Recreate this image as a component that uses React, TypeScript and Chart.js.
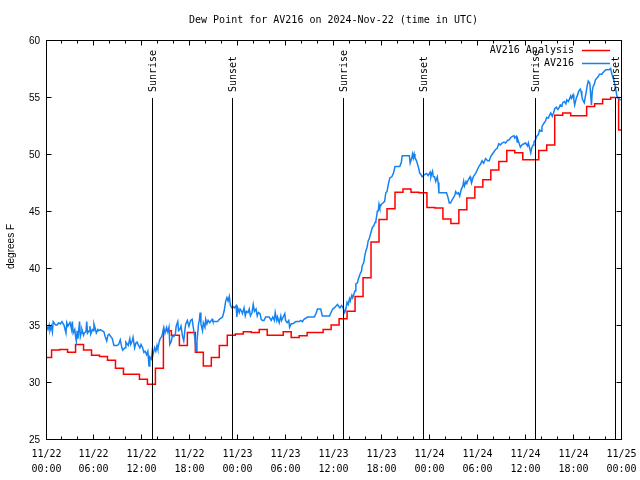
import React, { useEffect, useRef } from 'react';
import { Chart, registerables } from 'chart.js';

Chart.register(...registerables);

const TITLE = 'Dew Point for AV216 on 2024-Nov-22 (time in UTC)';
const Y_AXIS_LABEL = 'degrees F';
const SERIES_NAMES = ['AV216 Analysis', 'AV216'];
const SERIES_COLORS = ['#ff0000', '#1682f0'];

const X_MIN_HOURS = 0;
const X_MAX_HOURS = 72;
const X_MAJOR_STEP_HOURS = 6;
const X_MINOR_STEP_HOURS = 2;
const X_TICK_DATES = ['11/22', '11/22', '11/22', '11/22', '11/23', '11/23', '11/23', '11/23', '11/24', '11/24', '11/24', '11/24', '11/25'];
const X_TICK_TIMES = ['00:00', '06:00', '12:00', '18:00', '00:00', '06:00', '12:00', '18:00', '00:00', '06:00', '12:00', '18:00', '00:00'];
const Y_MIN = 25;
const Y_MAX = 60;
const Y_STEP = 5;

// hourly analysis values (hours since 11/22 00:00 UTC, first value valid from -0.3 h)
const ANALYSIS_FIRST_HOUR = -0.3;
const analysisValues = [
  32.15, 32.8, 32.85, 32.6, 33.3, 32.8, 32.35, 32.24, 31.9, 31.2,
  30.67, 30.67, 30.25, 29.8, 31.2, 34.5, 34.1, 33.2, 34.34, 32.6,
  31.4, 32.15, 33.2, 34.1, 34.2, 34.4, 34.35, 34.6, 34.1, 34.1,
  34.4, 33.9, 34.05, 34.35, 34.35, 34.6, 35.0, 35.55, 36.2, 37.5,
  39.15, 42.27, 44.25, 45.2, 46.65, 46.93, 46.65, 46.6, 45.3, 45.27,
  44.3, 43.9, 45.1, 46.15, 47.1, 47.75, 48.6, 49.35, 50.3, 50.1,
  49.5, 49.5, 50.3, 50.8, 53.4, 53.6, 53.35, 53.35, 54.17, 54.4,
  54.8, 54.95, 52.1,
];

// observations: hours since 11/22 00:00 UTC and dew point (F)
const obsHours = [
  0.1, 0.25, 0.4, 0.5, 0.67, 0.8, 0.9, 1.1, 1.2, 1.4, 1.6, 1.8, 2.0, 2.25, 2.5, 2.6, 2.75, 2.9, 3.0, 3.2,
  3.3, 3.4, 3.6, 3.7, 3.8, 3.9, 4.0, 4.2, 4.3, 4.4, 4.5, 4.7, 4.8, 5.0, 5.1, 5.2, 5.4, 5.5, 5.6, 5.8,
  5.9, 6.0, 6.2, 6.3, 6.5, 6.6, 6.8, 7.0, 7.25, 7.4, 7.6, 7.75, 7.9, 8.1, 8.3, 8.5, 8.9, 9.1, 9.3, 9.5,
  9.6, 9.9, 10.0, 10.2, 10.3, 10.5, 10.6, 10.8, 10.9, 11.1, 11.25, 11.4, 11.6, 11.75, 11.9, 12.1, 12.25, 12.4, 12.6, 12.75,
  12.9, 13.0, 13.2, 13.3, 13.4, 13.6, 13.75, 13.9, 14.0, 14.2, 14.3, 14.5, 14.6, 14.75, 14.9, 15.1, 15.25, 15.4, 15.5, 15.7,
  15.8, 16.0, 16.2, 16.3, 16.5, 16.6, 16.75, 16.9, 17.1, 17.25, 17.4,
  17.5, 17.7, 17.9, 18.1, 18.3, 18.5, 18.65, 18.8, 18.9, 19.1, 19.2, 19.3, 19.4, 19.6, 19.7, 19.9, 20.0, 20.15, 20.3, 20.5,
  20.8, 20.9, 21.5, 21.7, 22.1, 22.3, 22.5, 22.65, 22.8, 22.95, 23.1, 23.3, 23.45, 23.6, 23.8, 23.9, 24.0, 24.2, 24.3, 24.5,
  24.6, 24.8, 24.95, 25.1, 25.3, 25.45, 25.6, 25.8, 25.95, 26.1, 26.3, 26.45, 26.6, 26.8, 26.95, 27.1, 27.3, 27.5, 27.7, 27.95,
  28.2, 28.4, 28.6, 28.7, 28.9, 29.0, 29.2, 29.4, 29.5, 29.7, 29.9, 30.0, 30.2, 30.4, 30.5, 30.7, 30.9, 31.1, 31.3, 31.7,
  31.9, 32.1, 32.3, 32.75, 33.6, 33.8, 34.0, 34.2, 34.4, 34.6, 34.8, 35.5, 35.7, 35.9, 36.1, 36.5,
  36.8, 37.0, 37.2, 37.4, 37.55, 37.7, 37.85, 38.0, 38.1, 38.3, 38.4, 38.55, 38.7, 38.8, 39.0, 39.1, 39.2, 39.4, 39.5, 39.6,
  39.8, 39.9, 40.05, 40.2, 40.35, 40.5, 40.6, 40.8, 40.9, 41.05, 41.2, 41.3, 41.5, 41.6, 41.7, 41.8, 42.0, 42.2, 42.4, 42.55,
  42.7, 42.85, 43.05, 43.3, 43.5, 43.7, 44.3, 44.5, 44.6, 45.5, 45.6, 45.8, 45.9, 46.0, 46.1, 46.2, 46.4, 46.5, 46.65, 46.8,
  46.95, 47.1, 47.2, 47.4, 47.65, 47.85, 48.1, 48.2, 48.3, 48.4, 48.5, 48.65, 48.8, 49.0, 49.1, 49.2, 49.9, 50.15, 50.35, 50.5,
  50.65, 50.8, 51.0, 51.2, 51.3, 51.5, 51.65, 51.8, 52.0, 52.2, 52.3, 52.4, 52.6, 52.7, 52.9, 53.1, 53.2, 53.3, 53.5,
  53.8, 54.2, 54.4, 54.6, 54.8, 55.05, 55.3, 55.5, 55.7, 55.9, 56.1, 56.3, 56.5, 56.7, 56.9, 57.1, 57.35, 57.55, 57.8, 58.0,
  58.2, 58.4, 58.6, 58.7, 58.9, 59.0, 59.1, 59.3, 59.4, 59.6, 59.85, 60.05, 60.3, 60.4, 60.6, 60.7, 60.8, 61.0, 61.1, 61.3,
  61.45, 61.65, 61.8, 62.0, 62.1, 62.35, 62.55, 62.7, 62.9, 63.05, 63.2, 63.4, 63.6, 63.7, 63.9, 64.1, 64.2, 64.4, 64.6, 64.7,
  64.9, 65.1, 65.2, 65.4, 65.6, 65.7, 65.8, 66.0, 66.1, 66.2, 66.4, 66.6, 66.7, 66.9, 67.0, 67.1, 67.2, 67.4, 67.5, 67.65,
  67.8, 67.9, 68.1, 68.2, 68.3, 68.4, 68.5, 68.65, 68.8, 69.15, 69.3, 69.6, 69.7, 70.1, 70.5, 70.7, 70.9, 71.1, 71.3, 71.5,
  71.7, 71.95,
];
const obsValues = [
  34.9, 34.6, 35.0, 34.5, 34.9, 34.4, 35.3, 35.1, 35.0, 35.0, 35.2, 35.1, 35.3, 35.0, 34.3, 35.2, 34.9, 35.1, 35.3, 34.6,
  35.3, 34.3, 34.6, 34.0, 33.6, 34.5, 33.8, 35.3, 34.0, 34.3, 34.6, 34.1, 34.3, 34.4, 35.3, 34.3, 34.5, 34.9, 34.2, 34.6,
  34.5, 35.1, 34.6, 34.3, 34.6, 34.5, 34.6, 34.5, 34.4, 34.0, 33.6, 34.1, 34.2, 34.0, 33.8, 33.2, 33.2, 33.3, 33.7, 33.0,
  32.8, 33.0, 33.5, 33.3, 33.2, 33.8, 33.3, 33.6, 33.9, 33.0, 33.4, 33.5, 33.2, 33.0, 33.3, 33.0, 32.6, 32.7, 32.4, 32.7,
  31.4, 32.2, 32.0, 32.7, 32.4, 33.0, 32.7, 33.2, 32.9, 33.6, 33.8, 34.0, 34.3, 34.8, 34.3, 34.8, 34.4, 34.8, 33.3, 33.6,
  34.0, 34.0, 34.2, 34.9, 35.3, 34.5, 34.6, 34.9, 34.0, 33.6, 34.6,
  35.1, 35.4, 34.9, 35.4, 35.5, 34.5, 33.8, 32.7, 33.5, 35.1, 35.4, 36.1, 35.1, 34.5, 35.2, 34.8, 35.5, 35.1, 35.4, 35.2,
  35.5, 35.3, 35.3, 35.5, 35.7, 36.2, 37.1, 37.4, 37.1, 37.5, 36.7, 36.5, 36.6, 36.5, 36.7, 35.7, 36.5, 36.1, 36.4, 36.2,
  36.0, 36.5, 35.8, 36.2, 36.1, 36.4, 35.8, 36.1, 36.8, 36.2, 36.4, 35.8, 36.1, 36.0, 35.5, 35.4, 35.4, 35.7, 35.7, 35.7,
  35.4, 35.7, 35.4, 36.1, 35.4, 35.7, 35.2, 35.8, 35.4, 35.7, 36.0, 35.4, 35.2, 35.4, 34.8, 35.1, 35.1, 35.2, 35.3, 35.3,
  35.4, 35.3, 35.5, 35.7, 35.7, 36.0, 36.4, 36.4, 36.4, 35.8, 35.8, 35.8, 36.1, 36.4, 36.5, 36.8,
  36.5, 36.7, 36.5, 36.1, 36.4, 37.0, 36.8, 37.3, 37.1, 37.6, 37.4, 37.7, 38.0, 38.6, 38.7, 39.0, 39.2, 39.6, 39.7, 40.2,
  40.5, 41.0, 41.5, 41.8, 42.4, 42.6, 42.9, 43.4, 43.6, 43.7, 44.0, 44.1, 45.0, 45.0, 45.6, 45.3, 45.6, 45.7, 45.85, 46.6,
  46.7, 47.3, 47.9, 48.0, 48.3, 48.9, 48.9, 49.3, 49.85, 49.85, 49.2, 49.65, 50.0, 49.65, 50.0, 49.65, 49.4, 49.15, 48.8, 48.3,
  48.2, 48.0, 48.0, 48.2, 48.3, 48.1, 48.4, 48.0, 48.3, 48.5, 48.0, 48.0, 47.6, 48.0, 47.5, 46.6, 46.6, 46.6, 46.15, 45.7,
  45.7, 45.9, 46.15, 46.4, 46.7, 46.5, 46.6, 46.3, 46.9, 47.2, 47.6, 47.2, 47.6, 47.5, 47.75, 48.0, 47.7, 47.5, 48.0,
  48.3, 48.9, 49.1, 49.4, 49.2, 49.6, 49.4, 49.4, 49.8, 50.0, 50.2, 50.4, 50.5, 50.9, 50.8, 50.96, 51.05, 50.96, 51.2, 51.25,
  51.45, 51.55, 51.6, 51.4, 51.55, 51.05, 51.25, 50.8, 50.6, 50.8, 50.9, 50.96, 50.7, 50.96, 50.4, 50.1, 50.5, 50.8, 51.05, 51.25,
  51.55, 51.7, 52.1, 52.0, 52.4, 52.7, 52.9, 53.2, 53.15, 53.4, 53.6, 53.3, 53.7, 53.97, 54.1, 53.9, 54.0, 54.3, 54.2, 54.5,
  54.6, 54.4, 54.75, 54.6, 54.9, 55.1, 54.9, 55.2, 54.75, 54.3, 54.9, 55.25, 55.5, 55.7, 55.5, 55.05, 54.75, 54.5, 54.9, 55.5,
  56.1, 56.4, 56.2, 55.2, 54.3, 55.5, 55.9, 56.1, 56.5, 56.8, 57.0, 57.0, 57.1, 57.4, 57.4, 57.5, 56.9, 56.5, 55.8, 55.05,
  54.9, 54.7,
];

const sunriseHours = [13.3, 37.3, 61.35];
const sunsetHours = [23.3, 47.25, 71.25];

const MONO = '10px "DejaVu Sans Mono", monospace';
const SANS = '10px "Liberation Sans", Arial, sans-serif';

const gnuplotLook = {
  id: 'gnuplotLook',
  beforeDraw(chart: any) {
    const { ctx, width, height } = chart;
    ctx.save();
    ctx.fillStyle = '#ffffff';
    ctx.fillRect(0, 0, width, height);
    ctx.restore();
  },
  afterDatasetsDraw(chart: any) {
    const { ctx, chartArea: a, scales } = chart;
    const xs = scales.x;
    const ys = scales.y;
    const L = Math.floor(a.left) + 0.5;
    const R = Math.floor(a.right) + 0.5;
    const T = Math.floor(a.top) + 0.5;
    const B = Math.floor(a.bottom) + 0.5;
    ctx.save();
    ctx.strokeStyle = '#000';
    ctx.fillStyle = '#000';
    ctx.lineWidth = 1;

    // sunrise / sunset markers
    const marks: [number, string][] = [
      ...sunriseHours.map((h) => [h, 'Sunrise'] as [number, string]),
      ...sunsetHours.map((h) => [h, 'Sunset'] as [number, string]),
    ];
    for (const [h, label] of marks) {
      const px = Math.floor(xs.getPixelForValue(h)) + 0.5;
      ctx.beginPath();
      ctx.moveTo(px, a.top + 58);
      ctx.lineTo(px, B);
      ctx.stroke();
      ctx.save();
      ctx.translate(px + 1, a.top + 52);
      ctx.rotate(-Math.PI / 2);
      ctx.font = MONO;
      ctx.textAlign = 'left';
      ctx.textBaseline = 'middle';
      ctx.fillText(label, 0, 0);
      ctx.restore();
    }

    // frame
    ctx.strokeRect(L, T, R - L, B - T);

    // y ticks and labels
    ctx.font = SANS;
    ctx.textAlign = 'right';
    ctx.textBaseline = 'middle';
    for (const t of ys.ticks) {
      const py = Math.floor(ys.getPixelForValue(t.value)) + 0.5;
      ctx.beginPath();
      ctx.moveTo(L, py);
      ctx.lineTo(L + 5, py);
      ctx.moveTo(R, py);
      ctx.lineTo(R - 5, py);
      ctx.stroke();
      ctx.fillText(String(t.value), a.left - 6, py + 0.5);
    }

    // x minor ticks
    for (let v = X_MIN_HOURS; v <= X_MAX_HOURS; v += X_MINOR_STEP_HOURS) {
      if (v % X_MAJOR_STEP_HOURS === 0) continue;
      const px = Math.floor(xs.getPixelForValue(v)) + 0.5;
      ctx.beginPath();
      ctx.moveTo(px, B);
      ctx.lineTo(px, B - 3);
      ctx.moveTo(px, T);
      ctx.lineTo(px, T + 3);
      ctx.stroke();
    }
    // x major ticks and labels
    ctx.font = MONO;
    ctx.textAlign = 'center';
    ctx.textBaseline = 'middle';
    xs.ticks.forEach((t: any, i: number) => {
      const px = Math.floor(xs.getPixelForValue(t.value)) + 0.5;
      ctx.beginPath();
      ctx.moveTo(px, B);
      ctx.lineTo(px, B - 5);
      ctx.moveTo(px, T);
      ctx.lineTo(px, T + 5);
      ctx.stroke();
      ctx.fillText(X_TICK_DATES[i] ?? '', px, a.bottom + 15);
      ctx.fillText(X_TICK_TIMES[i] ?? '', px, a.bottom + 30);
    });

    // title
    ctx.font = MONO;
    ctx.textAlign = 'center';
    ctx.fillText(TITLE, (a.left + a.right) / 2, a.top - 20);

    // y axis label
    ctx.save();
    ctx.translate(11, (a.top + a.bottom) / 2 + 7);
    ctx.rotate(-Math.PI / 2);
    ctx.font = SANS;
    ctx.textAlign = 'center';
    ctx.textBaseline = 'middle';
    ctx.fillText(Y_AXIS_LABEL, 0, 0);
    ctx.restore();

    // legend (top right, inside)
    ctx.font = MONO;
    ctx.textAlign = 'right';
    ctx.textBaseline = 'middle';
    chart.data.datasets.forEach((ds: any, i: number) => {
      const ly = a.top + 10 + 13 * i;
      ctx.fillStyle = '#000';
      ctx.fillText(ds.label, a.right - 47, ly);
      ctx.strokeStyle = ds.borderColor;
      ctx.lineWidth = 1.5;
      ctx.beginPath();
      ctx.moveTo(a.right - 39, Math.floor(ly) + 0.5);
      ctx.lineTo(a.right - 11, Math.floor(ly) + 0.5);
      ctx.stroke();
    });

    ctx.restore();
  },
};

export default function App() {
  const canvasRef = useRef<HTMLCanvasElement | null>(null);

  useEffect(() => {
    document.body.style.margin = '0';
    const canvas = canvasRef.current;
    if (!canvas) return;

    const analysisPoints = analysisValues.map((v, i) => ({ x: ANALYSIS_FIRST_HOUR + i, y: v }));
    analysisPoints.push({ x: X_MAX_HOURS, y: analysisValues[analysisValues.length - 1] });
    const obsPoints = obsHours.map((h, i) => ({ x: h, y: obsValues[i] }));

    const chart = new Chart(canvas, {
      type: 'line',
      data: {
        datasets: [
          {
            label: SERIES_NAMES[0],
            data: analysisPoints,
            borderColor: SERIES_COLORS[0],
            backgroundColor: SERIES_COLORS[0],
            borderWidth: 1.5,
            stepped: 'before',
            pointRadius: 0,
            fill: false,
            order: 1,
          },
          {
            label: SERIES_NAMES[1],
            data: obsPoints,
            borderColor: SERIES_COLORS[1],
            backgroundColor: SERIES_COLORS[1],
            borderWidth: 1.5,
            tension: 0,
            pointRadius: 0,
            fill: false,
            order: 0,
          },
        ],
      },
      options: {
        animation: false,
        responsive: false,
        devicePixelRatio: 1,
        layout: { padding: { left: 46, top: 40, right: 19, bottom: 41 } },
        scales: {
          x: { type: 'linear', min: X_MIN_HOURS, max: X_MAX_HOURS, display: false, ticks: { stepSize: X_MAJOR_STEP_HOURS } },
          y: { type: 'linear', min: Y_MIN, max: Y_MAX, display: false, ticks: { stepSize: Y_STEP } },
        },
        plugins: {
          legend: { display: false },
          title: { display: false },
          tooltip: { enabled: false },
        },
      },
      plugins: [gnuplotLook],
    } as any);

    return () => chart.destroy();
  }, []);

  return (
    <div style={{ width: 640, height: 480 }}>
      <canvas ref={canvasRef} width={640} height={480} style={{ display: 'block' }} />
    </div>
  );
}
